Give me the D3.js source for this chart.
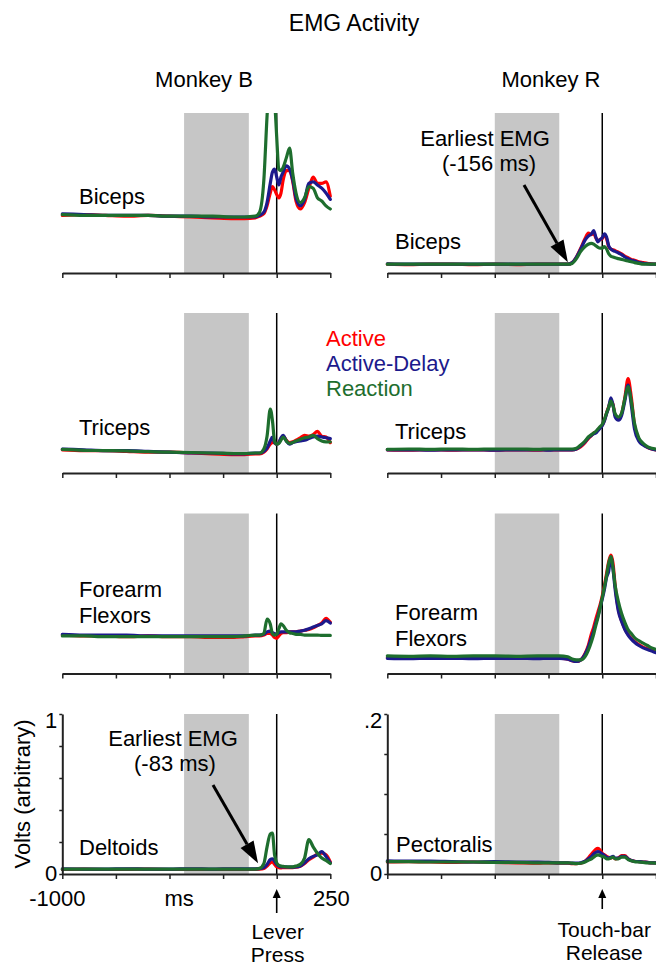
<!DOCTYPE html>
<html><head><meta charset="utf-8">
<script src="https://cdn.jsdelivr.net/npm/d3@7"></script>
<style>
body{margin:0;background:#fff}
svg{display:block}
text{font-family:"Liberation Sans",Arial,Helvetica,sans-serif;fill:#000}
</style>
</head><body>
<svg id="chart" width="656" height="967"></svg>
<script>
// ---------------- DATA ----------------
const seriesNames = ["Active", "Active-Delay", "Reaction"];
const seriesColors = ["#ff0000", "#1c1a8c", "#1e6e2e"];
const xTicks = [-1000, -750, -500, -250, 0, 250];
const xTickLabelsLeft = ["-1000", "", "", "", "", "250"];
const yTicksLeft = [0, 0.2, 0.4, 0.6, 0.8, 1];
const yTickLabelsLeft = ["0", "", "", "", "", "1"];
const yTicksRight = [0, 0.05, 0.1, 0.15, 0.2];
const yTickLabelsRight = ["0", "", "", "", ".2"];
const grayLeft = [-432, -130];
const grayRight = [-500, -200];

// time grids (ms relative to lever press / touch-bar release)
const tL = [-1000,-900,-800,-700,-600,-500,-400,-300,-200,-150,-100,-80,-60,-45,-30,-20,-10,0,10,20,30,45,60,75,90,110,130,150,170,190,210,230,250];
const tR = [-1000,-900,-800,-700,-600,-500,-400,-300,-250,-200,-160,-140,-120,-100,-80,-65,-50,-40,-30,-20,-10,0,10,20,30,40,50,60,75,90,105,120,135,150,170,190,210,230,250];

// Monkey B (volts, arbitrary 0-1)
const bicepsB_active      = [0.36,0.365,0.36,0.355,0.36,0.355,0.35,0.345,0.34,0.34,0.345,0.355,0.37,0.42,0.5,0.54,0.52,0.49,0.47,0.5,0.58,0.64,0.64,0.57,0.45,0.4,0.44,0.53,0.6,0.56,0.56,0.57,0.48];
const bicepsB_activeDelay = [0.37,0.365,0.36,0.36,0.36,0.355,0.355,0.35,0.35,0.35,0.35,0.36,0.38,0.44,0.56,0.63,0.65,0.6,0.55,0.6,0.63,0.67,0.65,0.58,0.47,0.42,0.46,0.56,0.57,0.55,0.53,0.5,0.46];
const bicepsB_reaction    = [0.365,0.36,0.36,0.36,0.36,0.355,0.355,0.355,0.35,0.35,0.355,0.38,0.58,0.98,1.3,1.35,1.1,0.85,0.65,0.64,0.66,0.72,0.78,0.62,0.5,0.44,0.47,0.54,0.53,0.47,0.45,0.42,0.4];

const tricepsB_active      = [0.145,0.14,0.14,0.135,0.13,0.13,0.125,0.12,0.115,0.115,0.12,0.12,0.13,0.15,0.18,0.19,0.19,0.18,0.19,0.215,0.23,0.205,0.19,0.195,0.205,0.22,0.235,0.23,0.24,0.26,0.23,0.225,0.19];
const tricepsB_activeDelay = [0.15,0.145,0.14,0.14,0.135,0.13,0.125,0.125,0.12,0.12,0.125,0.125,0.135,0.155,0.2,0.225,0.19,0.18,0.19,0.22,0.235,0.2,0.18,0.19,0.195,0.2,0.205,0.215,0.225,0.23,0.225,0.22,0.215];
const tricepsB_reaction    = [0.148,0.142,0.14,0.138,0.133,0.13,0.128,0.125,0.122,0.122,0.125,0.125,0.15,0.23,0.4,0.33,0.2,0.18,0.185,0.205,0.225,0.2,0.185,0.19,0.2,0.21,0.22,0.225,0.235,0.215,0.2,0.195,0.195];

const forearmB_active      = [0.24,0.235,0.235,0.23,0.235,0.23,0.23,0.225,0.225,0.23,0.235,0.235,0.24,0.25,0.25,0.24,0.225,0.22,0.235,0.25,0.255,0.255,0.26,0.26,0.26,0.265,0.27,0.275,0.285,0.3,0.315,0.345,0.32];
const forearmB_activeDelay = [0.245,0.24,0.24,0.24,0.235,0.235,0.235,0.235,0.235,0.235,0.24,0.24,0.245,0.26,0.265,0.255,0.25,0.245,0.255,0.26,0.26,0.26,0.26,0.26,0.26,0.265,0.27,0.28,0.29,0.3,0.31,0.33,0.315];
const forearmB_reaction    = [0.235,0.235,0.23,0.23,0.23,0.23,0.23,0.23,0.23,0.235,0.24,0.24,0.25,0.34,0.31,0.25,0.24,0.245,0.28,0.31,0.3,0.27,0.255,0.25,0.245,0.245,0.24,0.24,0.24,0.24,0.238,0.238,0.238];

const deltoidsB_active      = [0.028,0.03,0.028,0.029,0.03,0.028,0.029,0.028,0.029,0.028,0.029,0.03,0.035,0.05,0.07,0.075,0.06,0.045,0.04,0.038,0.04,0.04,0.04,0.04,0.042,0.048,0.065,0.09,0.105,0.125,0.13,0.12,0.075];
const deltoidsB_activeDelay = [0.032,0.031,0.031,0.032,0.031,0.031,0.032,0.031,0.032,0.032,0.032,0.033,0.04,0.06,0.09,0.095,0.08,0.06,0.05,0.045,0.045,0.044,0.043,0.043,0.044,0.05,0.07,0.095,0.11,0.12,0.14,0.11,0.07];
const deltoidsB_reaction    = [0.03,0.03,0.03,0.03,0.03,0.03,0.03,0.03,0.03,0.03,0.031,0.035,0.065,0.17,0.25,0.255,0.12,0.07,0.055,0.05,0.048,0.045,0.044,0.045,0.05,0.06,0.1,0.215,0.17,0.13,0.1,0.085,0.065];

// Monkey R (volts, 0-0.2)
const bicepsR_active      = [0.011,0.0105,0.011,0.011,0.0105,0.011,0.0105,0.011,0.011,0.011,0.011,0.013,0.02,0.031,0.043,0.05,0.048,0.05,0.044,0.04,0.042,0.043,0.048,0.043,0.033,0.03,0.029,0.028,0.026,0.024,0.021,0.019,0.017,0.016,0.014,0.013,0.012,0.0115,0.011];
const bicepsR_activeDelay = [0.0115,0.011,0.0112,0.011,0.0112,0.011,0.0112,0.011,0.011,0.011,0.011,0.013,0.02,0.03,0.041,0.046,0.049,0.053,0.045,0.039,0.042,0.044,0.049,0.045,0.034,0.03,0.028,0.027,0.025,0.023,0.02,0.018,0.016,0.015,0.013,0.012,0.0115,0.011,0.011];
const bicepsR_reaction    = [0.011,0.011,0.011,0.011,0.011,0.011,0.011,0.011,0.011,0.011,0.011,0.012,0.018,0.027,0.033,0.036,0.037,0.036,0.034,0.032,0.031,0.031,0.033,0.03,0.024,0.021,0.02,0.019,0.018,0.017,0.016,0.015,0.014,0.013,0.012,0.011,0.011,0.011,0.011];

const tricepsR_active      = [0.029,0.0285,0.029,0.0285,0.029,0.0285,0.029,0.0285,0.029,0.029,0.029,0.029,0.03,0.033,0.038,0.043,0.047,0.05,0.051,0.054,0.057,0.06,0.066,0.075,0.083,0.09,0.086,0.072,0.068,0.074,0.094,0.118,0.095,0.06,0.042,0.036,0.032,0.03,0.029];
const tricepsR_activeDelay = [0.029,0.029,0.0285,0.029,0.029,0.0285,0.029,0.029,0.0285,0.029,0.029,0.029,0.03,0.034,0.039,0.044,0.047,0.049,0.05,0.053,0.056,0.059,0.065,0.074,0.082,0.094,0.085,0.07,0.066,0.072,0.09,0.11,0.085,0.055,0.04,0.035,0.032,0.03,0.029];
const tricepsR_reaction    = [0.0295,0.03,0.0295,0.03,0.0295,0.03,0.03,0.0295,0.03,0.03,0.03,0.03,0.031,0.035,0.04,0.045,0.048,0.05,0.052,0.055,0.058,0.061,0.067,0.075,0.082,0.09,0.084,0.074,0.07,0.075,0.093,0.108,0.09,0.062,0.044,0.037,0.033,0.031,0.03];

const forearmR_active      = [0.02,0.0195,0.02,0.0195,0.02,0.0195,0.02,0.0195,0.02,0.019,0.018,0.016,0.015,0.017,0.025,0.035,0.05,0.058,0.068,0.077,0.086,0.097,0.11,0.125,0.14,0.148,0.138,0.11,0.08,0.066,0.056,0.049,0.044,0.04,0.036,0.033,0.031,0.029,0.027];
const forearmR_activeDelay = [0.019,0.0185,0.019,0.019,0.0185,0.019,0.019,0.0185,0.019,0.019,0.018,0.016,0.015,0.017,0.024,0.033,0.045,0.053,0.063,0.072,0.083,0.093,0.105,0.12,0.128,0.145,0.13,0.105,0.078,0.065,0.055,0.048,0.043,0.039,0.035,0.032,0.03,0.028,0.026];
const forearmR_reaction    = [0.022,0.0215,0.022,0.0215,0.022,0.022,0.0215,0.022,0.022,0.022,0.021,0.018,0.017,0.017,0.021,0.029,0.04,0.049,0.06,0.07,0.082,0.095,0.108,0.122,0.138,0.146,0.132,0.11,0.09,0.075,0.064,0.055,0.05,0.045,0.041,0.038,0.035,0.032,0.03];

const pectoralisR_active      = [0.015,0.0155,0.015,0.0145,0.015,0.0145,0.014,0.0135,0.014,0.0135,0.0135,0.013,0.013,0.0135,0.016,0.02,0.025,0.028,0.031,0.032,0.03,0.026,0.024,0.022,0.021,0.02,0.021,0.019,0.02,0.023,0.023,0.019,0.017,0.016,0.0155,0.015,0.0145,0.014,0.014];
const pectoralisR_activeDelay = [0.0165,0.016,0.016,0.0155,0.015,0.0155,0.015,0.015,0.0145,0.014,0.014,0.0135,0.0135,0.014,0.016,0.019,0.022,0.025,0.027,0.028,0.027,0.025,0.023,0.021,0.02,0.021,0.022,0.02,0.02,0.022,0.022,0.019,0.017,0.016,0.0155,0.015,0.0145,0.014,0.014];
const pectoralisR_reaction    = [0.0155,0.0155,0.015,0.015,0.015,0.0145,0.0145,0.014,0.014,0.014,0.014,0.0135,0.013,0.0135,0.015,0.017,0.019,0.021,0.023,0.024,0.023,0.022,0.021,0.019,0.019,0.02,0.021,0.019,0.019,0.021,0.021,0.018,0.0165,0.0155,0.015,0.0145,0.014,0.014,0.0135];

// ---------------- LAYOUT ----------------
const svg = d3.select("#chart");
const FONT = 22;
const rowTops = [113, 313, 513.5, 714];
const PH = 160;
const xL = d3.scaleLinear().domain([-1000, 250]).range([62.3, 330.3]);
const xR = d3.scaleLinear().domain([-1000, 250]).range([387.3, 656]);

const panels = [
  {col:0,row:0,x:xL,max:1,gray:grayLeft,t:tL,data:[bicepsB_active,bicepsB_activeDelay,bicepsB_reaction],label:["Biceps"],lx:79,ly:[91]},
  {col:0,row:1,x:xL,max:1,gray:grayLeft,t:tL,data:[tricepsB_active,tricepsB_activeDelay,tricepsB_reaction],label:["Triceps"],lx:79,ly:[122]},
  {col:0,row:2,x:xL,max:1,gray:grayLeft,t:tL,data:[forearmB_active,forearmB_activeDelay,forearmB_reaction],label:["Forearm","Flexors"],lx:79,ly:[83,109]},
  {col:0,row:3,x:xL,max:1,gray:grayLeft,t:tL,data:[deltoidsB_active,deltoidsB_activeDelay,deltoidsB_reaction],label:["Deltoids"],lx:79,ly:[141]},
  {col:1,row:0,x:xR,max:0.2,gray:grayRight,t:tR,data:[bicepsR_active,bicepsR_activeDelay,bicepsR_reaction],label:["Biceps"],lx:395,ly:[136]},
  {col:1,row:1,x:xR,max:0.2,gray:grayRight,t:tR,data:[tricepsR_active,tricepsR_activeDelay,tricepsR_reaction],label:["Triceps"],lx:395,ly:[126]},
  {col:1,row:2,x:xR,max:0.2,gray:grayRight,t:tR,data:[forearmR_active,forearmR_activeDelay,forearmR_reaction],label:["Forearm","Flexors"],lx:395,ly:[106,132]},
  {col:1,row:3,x:xR,max:0.2,gray:grayRight,t:tR,data:[pectoralisR_active,pectoralisR_activeDelay,pectoralisR_reaction],label:["Pectoralis"],lx:396,ly:[138]}
];

const defs = svg.append("defs");

panels.forEach((p, i) => {
  const top = rowTops[p.row], bottom = top + PH;
  const y = d3.scaleLinear().domain([0, p.max]).range([bottom, top]);
  p.y = y;
  const g = svg.append("g");
  const [x0, x1] = p.x.range();

  g.append("rect")
    .attr("x", p.x(p.gray[0])).attr("y", top)
    .attr("width", p.x(p.gray[1]) - p.x(p.gray[0])).attr("height", PH)
    .attr("fill", "#c6c6c6");

  p.label.forEach((s, k) => {
    g.append("text").attr("x", p.lx).attr("y", top + p.ly[k])
      .attr("font-size", FONT).text(s);
  });

  defs.append("clipPath").attr("id", "clip" + i)
    .append("rect").attr("x", x0 - 2).attr("y", top).attr("width", x1 - x0 + 4).attr("height", PH);

  g.append("line").attr("x1", p.x(0)).attr("x2", p.x(0))
    .attr("y1", top).attr("y2", bottom)
    .attr("stroke", "#000").attr("stroke-width", 1.5);

  const line = d3.line().x((d, j) => p.x(p.t[j])).y(d => y(d)).curve(d3.curveMonotoneX);
  const lg = g.append("g").attr("clip-path", `url(#clip${i})`);
  p.data.forEach((vals, s) => {
    lg.append("path").datum(vals)
      .attr("d", line).attr("fill", "none")
      .attr("stroke", seriesColors[s]).attr("stroke-width", 3.2)
      .attr("stroke-linejoin", "round").attr("stroke-linecap", "round");
  });

  const ax = g.append("g").attr("transform", `translate(0,${bottom})`)
    .call(d3.axisBottom(p.x).tickValues(xTicks).tickSize(5).tickSizeOuter(0).tickFormat(""));
  ax.select(".domain").attr("stroke", "#222").attr("stroke-width", 2);
  ax.selectAll(".tick line").attr("stroke", "#222").attr("stroke-width", 1.5);

  if (p.row === 3) {
    const ticks = p.col === 0 ? yTicksLeft : yTicksRight;
    const labs = p.col === 0 ? yTickLabelsLeft : yTickLabelsRight;
    const ay = g.append("g").attr("transform", `translate(${x0},0)`)
      .call(d3.axisLeft(y).tickValues(ticks).tickSize(3).tickSizeOuter(0).tickFormat(""));
    ay.select(".domain").attr("stroke", "#222").attr("stroke-width", 2);
    ay.selectAll(".tick line").attr("stroke", "#222").attr("stroke-width", 1.5);
    ticks.forEach((v, k) => {
      if (!labs[k]) return;
      const yy = v === p.max ? y(v) + 14 : y(v) + 7;
      g.append("text").attr("x", x0 - 5).attr("y", yy)
        .attr("text-anchor", "end").attr("font-size", FONT).text(labs[k]);
    });
  }
});

const blBottom = rowTops[3] + PH;
xTicks.forEach((v, k) => {
  if (!xTickLabelsLeft[k]) return;
  svg.append("text").attr("x", xL(v) + (v < 0 ? -5 : 1)).attr("y", blBottom + 32)
    .attr("text-anchor", "middle").attr("font-size", FONT).text(xTickLabelsLeft[k]);
});
svg.append("text").attr("x", xL(-455)).attr("y", blBottom + 32)
  .attr("text-anchor", "middle").attr("font-size", FONT).text("ms");

svg.append("text").attr("transform", `translate(30,${rowTops[3] + PH / 2}) rotate(-90)`)
  .attr("text-anchor", "middle").attr("font-size", FONT).text("Volts (arbitrary)");

svg.append("text").attr("x", 354).attr("y", 31).attr("text-anchor", "middle")
  .attr("font-size", 23).text("EMG Activity");
svg.append("text").attr("x", 204).attr("y", 87).attr("text-anchor", "middle")
  .attr("font-size", FONT).text("Monkey B");
svg.append("text").attr("x", 551).attr("y", 87).attr("text-anchor", "middle")
  .attr("font-size", FONT).text("Monkey R");

seriesNames.forEach((n, s) => {
  svg.append("text").attr("x", 326).attr("y", 346 + s * 25)
    .attr("font-size", FONT).style("fill", seriesColors[s]).text(n);
});

function arrow(x1, y1, x2, y2, hl, hw, sw) {
  const ang = Math.atan2(y2 - y1, x2 - x1);
  const bx = x2 - hl * Math.cos(ang), by = y2 - hl * Math.sin(ang);
  const px = -Math.sin(ang) * hw / 2, py = Math.cos(ang) * hw / 2;
  svg.append("line").attr("x1", x1).attr("y1", y1).attr("x2", bx).attr("y2", by)
    .attr("stroke", "#000").attr("stroke-width", sw);
  svg.append("path").attr("d", `M${x2},${y2}L${bx + px},${by + py}L${bx - px},${by - py}Z`)
    .attr("fill", "#000");
}

const pB = panels[3], pR = panels[4];
svg.append("text").attr("x", 173).attr("y", 746).attr("text-anchor", "middle").attr("font-size", FONT).text("Earliest EMG");
svg.append("text").attr("x", 175).attr("y", 771).attr("text-anchor", "middle").attr("font-size", FONT).text("(-83 ms)");
arrow(213, 785, xL(-87), pB.y(0.067), 22, 15, 3);

svg.append("text").attr("x", 485).attr("y", 146).attr("text-anchor", "middle").attr("font-size", FONT).text("Earliest EMG");
svg.append("text").attr("x", 489).attr("y", 171).attr("text-anchor", "middle").attr("font-size", FONT).text("(-156 ms)");
arrow(524, 185, xR(-160), pR.y(0.0134), 22, 15, 3);

arrow(xL(0), 913, xL(0), 889, 9, 8, 1.6);
arrow(xR(0), 909, xR(0), 889, 9, 8, 1.6);
const EV = 21;
svg.append("text").attr("x", xL(0) + 1).attr("y", 939).attr("text-anchor", "middle").attr("font-size", EV).text("Lever");
svg.append("text").attr("x", xL(0) + 1).attr("y", 962).attr("text-anchor", "middle").attr("font-size", EV).text("Press");
svg.append("text").attr("x", xR(0) + 2).attr("y", 937).attr("text-anchor", "middle").attr("font-size", EV).text("Touch-bar");
svg.append("text").attr("x", xR(0) + 2).attr("y", 960).attr("text-anchor", "middle").attr("font-size", EV).text("Release");
</script>
</body></html>
